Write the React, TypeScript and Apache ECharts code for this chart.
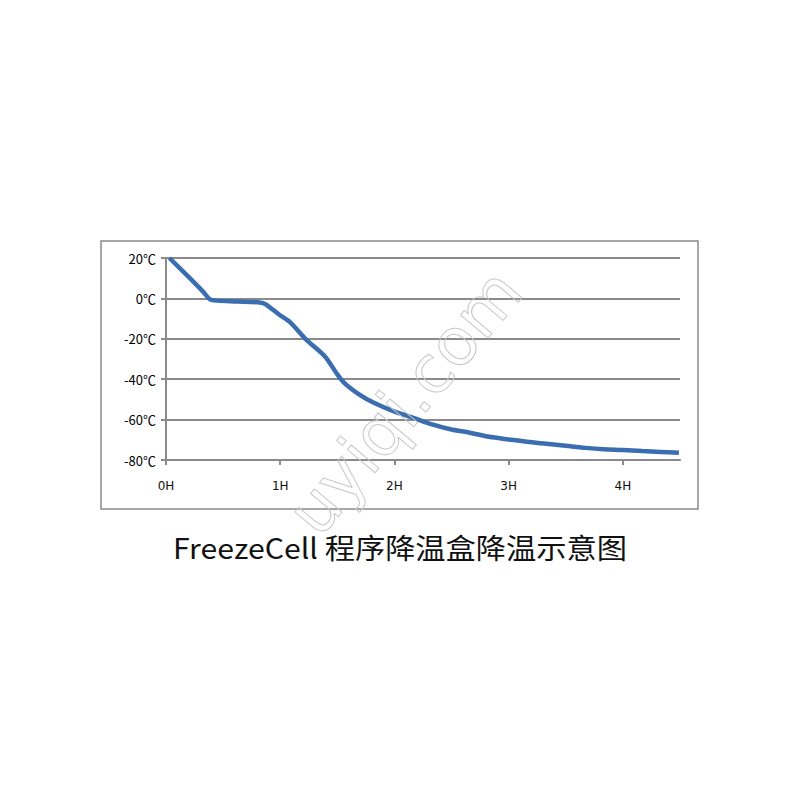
import React, { useEffect, useRef } from "react";
import * as echarts from "echarts";

const hours = [0.03, 0.2, 0.33, 0.385, 0.45, 0.62, 0.82, 0.87, 0.99, 1.09, 1.22, 1.39, 1.49, 1.56, 1.69, 1.82, 1.99, 2.16, 2.33, 2.49, 2.66, 2.83, 3.0, 3.16, 3.33, 3.5, 3.67, 3.83, 4.0, 4.17, 4.33, 4.49];
const temps = [20, 10.5, 3, -0.5, -1.1, -1.5, -2, -2.8, -8, -12, -20, -28.6, -36.8, -41.8, -47.5, -51.7, -55.8, -59, -62.4, -64.8, -66.5, -68.5, -69.8, -71, -72, -73, -74, -74.7, -75.1, -75.6, -76, -76.4];
const xTicks = [0, 1, 2, 3, 4];
const title = "FreezeCell 程序降温盒降温示意图";
const watermark = "uyiqi.com";

export default function App() {
  const ref = useRef<HTMLDivElement>(null);
  useEffect(() => {
    const chart = echarts.init(ref.current!, null, { renderer: "svg" });
    const data = hours.map((h, i) => [h, temps[i]]);
    chart.setOption({
      animation: false,
      backgroundColor: "#ffffff",
      grid: { left: 166, right: 120, top: 258, bottom: 340 },
      xAxis: {
        type: "value",
        min: 0,
        max: 4.5,
        interval: 1,
        splitLine: { show: false },
        axisLine: { show: true, onZero: false, lineStyle: { color: "#8a8a8a", width: 2 } },
        axisTick: { show: true, length: 5, customValues: xTicks, lineStyle: { color: "#8a8a8a", width: 2 } },
        axisLabel: {
          customValues: xTicks,
          formatter: (v: number) => v + "H",
          margin: 20,
          fontSize: 12,
          color: "#111",
          fontFamily: "DejaVu Sans",
        },
      },
      yAxis: {
        type: "value",
        min: -80,
        max: 20,
        interval: 20,
        splitLine: { show: true, lineStyle: { color: "#8a8a8a", width: 2 } },
        axisLine: { show: true, lineStyle: { color: "#8a8a8a", width: 2 } },
        axisTick: { show: true, length: 5, lineStyle: { color: "#8a8a8a", width: 2 } },
        axisLabel: {
          formatter: (v: number) => v + "℃",
          margin: 10,
          fontSize: 13,
          color: "#000",
          fontFamily: "Noto Sans CJK SC",
        },
      },
      series: [
        {
          type: "line",
          data,
          showSymbol: false,
          smooth: 0.3,
          lineStyle: { color: "#3b6eb0", width: 4.5 },
        },
      ],
      graphic: [
        {
          type: "rect",
          shape: { x: 101, y: 241, width: 597, height: 268 },
          style: { fill: "none", stroke: "#8a8a8a", lineWidth: 1.5 },
          z: 0,
        },
        {
          type: "text",
          x: 405,
          y: 402,
          rotation: (50 * Math.PI) / 180,
          style: {
            text: watermark,
            fontSize: 66,
            fontFamily: "DejaVu Sans",
            fill: "rgba(0,0,0,0)",
            stroke: "#c8c8c8",
            lineWidth: 1,
            align: "center",
            verticalAlign: "middle",
          },
          z: 100,
        },
        {
          type: "text",
          x: 400,
          y: 547,
          scaleX: 1.08,
          style: {
            text: title,
            fontSize: 28,
            fontFamily: "Noto Sans CJK SC",
            fill: "#111",
            align: "center",
            verticalAlign: "middle",
          },
        },
      ],
    });
    return () => chart.dispose();
  }, []);
  return <div ref={ref} style={{ position: "fixed", left: 0, top: 0, width: 800, height: 800 }} />;
}
